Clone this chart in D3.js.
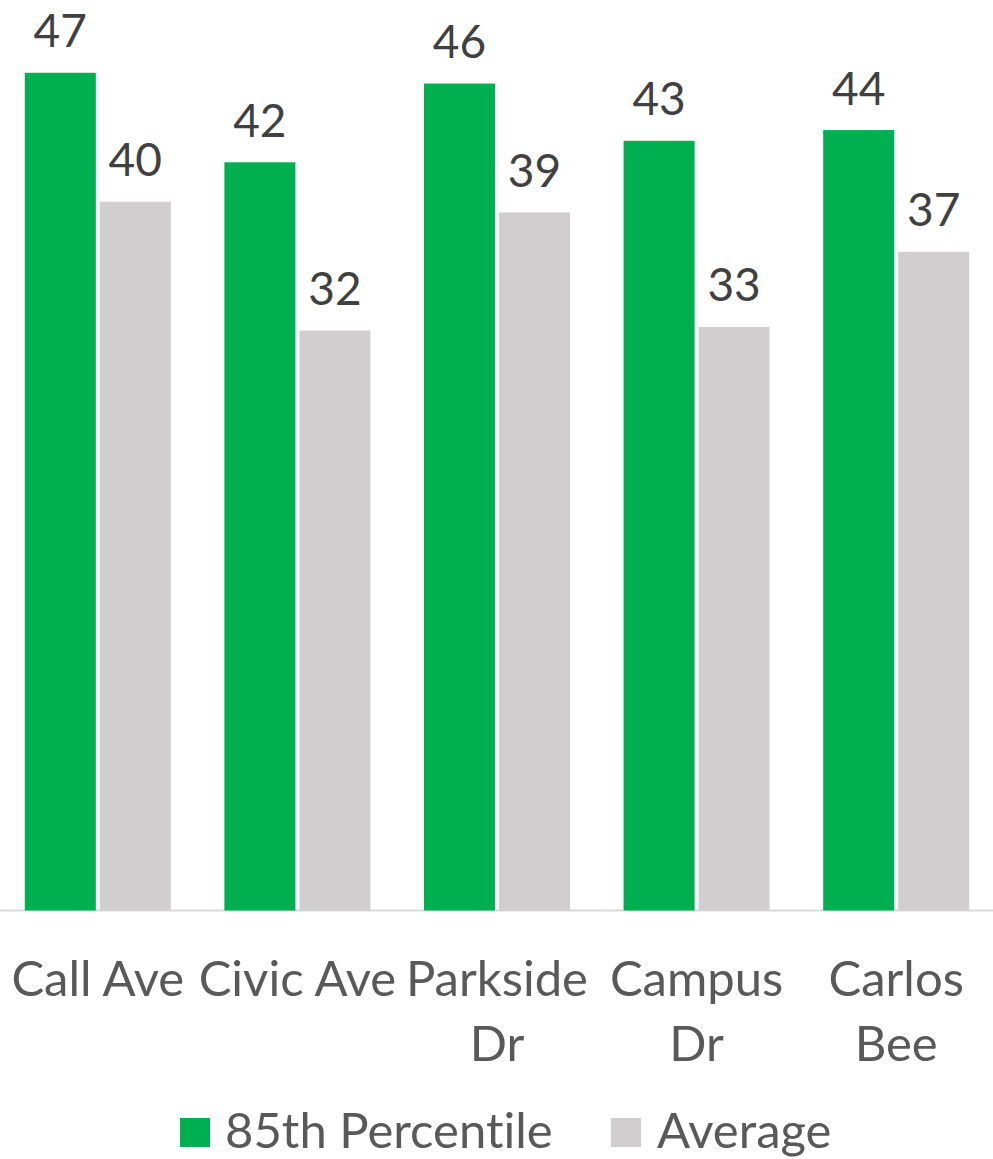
<!DOCTYPE html>
<html>
<head>
<meta charset="utf-8">
<script src="https://cdn.jsdelivr.net/npm/d3@7"></script>
<style>
  html, body { margin: 0; padding: 0; background: #ffffff; }
  svg { display: block; }
  text { font-family: Lato, "Open Sans", sans-serif; font-variant-ligatures: none; }
</style>
</head>
<body>
<svg id="chart" width="993" height="1159"></svg>
<script>
// Data
const categories = ["Call Ave", "Civic Ave", "Parkside Dr", "Campus Dr", "Carlos Bee"];
const categoryLines = [["Call Ave"], ["Civic Ave"], ["Parkside", "Dr"], ["Campus", "Dr"], ["Carlos", "Bee"]];
const seriesNames = ["85th Percentile", "Average"];
const percentile85 = [46.8, 41.8, 46.2, 43.0, 43.6];
const average = [39.6, 32.4, 39.0, 32.6, 36.8];
const seriesColors = ["#00B050", "#D0CECE"];

const svg = d3.select("#chart");
const labelSize = 46;
const textSize = 49;

const x = d3.scaleBand().domain(categories).range([-2, 996]).paddingInner(0).paddingOuter(0);
const x1 = d3.scaleBand().domain(seriesNames).range([0, x.bandwidth()]).paddingInner(0.053).paddingOuter(0.357);
const y = d3.scaleLinear().domain([0, 50]).range([910.5, 15.5]);

const rows = categories.map((c, i) => ({ cat: c, values: [percentile85[i], average[i]] }));

// Axis line
const xAxis = d3.axisBottom(x).tickSize(0).tickFormat("");
const gx = svg.append("g").attr("transform", `translate(0,${y(0)})`).call(xAxis);
gx.select(".domain").attr("stroke", "#D9D9D9").attr("stroke-width", 2).attr("d", `M0,0H993`);

// Bars
const groups = svg.selectAll("g.cat").data(rows).join("g")
  .attr("class", "cat")
  .attr("transform", d => `translate(${x(d.cat)},0)`);

groups.selectAll("rect").data(d => d.values.map((v, j) => ({ v, s: seriesNames[j], j }))).join("rect")
  .attr("x", d => x1(d.s))
  .attr("width", x1.bandwidth())
  .attr("y", d => y(d.v))
  .attr("height", d => y(0) - y(d.v))
  .attr("fill", d => seriesColors[d.j]);

// Data labels
groups.selectAll("text.lbl").data(d => d.values.map((v, j) => ({ v, s: seriesNames[j], j }))).join("text")
  .attr("class", "lbl")
  .attr("x", d => x1(d.s) + x1.bandwidth() / 2)
  .attr("y", d => y(d.v) - 25.5)
  .attr("text-anchor", "middle")
  .attr("font-size", labelSize)
  .attr("fill", "#404040")
  .text(d => d3.format(".0f")(d.v));

// Category labels
categories.forEach((c, i) => {
  const t = svg.append("text")
    .attr("x", x(c) + x.bandwidth() / 2)
    .attr("y", 996)
    .attr("text-anchor", "middle")
    .attr("font-size", textSize)
    .attr("fill", "#595959");
  categoryLines[i].forEach((line, k) => {
    t.append("tspan").attr("x", x(c) + x.bandwidth() / 2).attr("dy", k === 0 ? 0 : 65).text(line);
  });
});

// Legend
const legend = svg.append("g");
const legendItems = [{ name: seriesNames[0], sx: 180, tx: 225 }, { name: seriesNames[1], sx: 611, tx: 657 }];
legendItems.forEach((it, j) => {
  legend.append("rect").attr("x", it.sx).attr("y", 1118).attr("width", 30).attr("height", 29).attr("fill", seriesColors[j]);
  legend.append("text").attr("x", it.tx).attr("y", 1148).attr("font-size", textSize).attr("fill", "#595959").text(it.name);
});
</script>
</body>
</html>
